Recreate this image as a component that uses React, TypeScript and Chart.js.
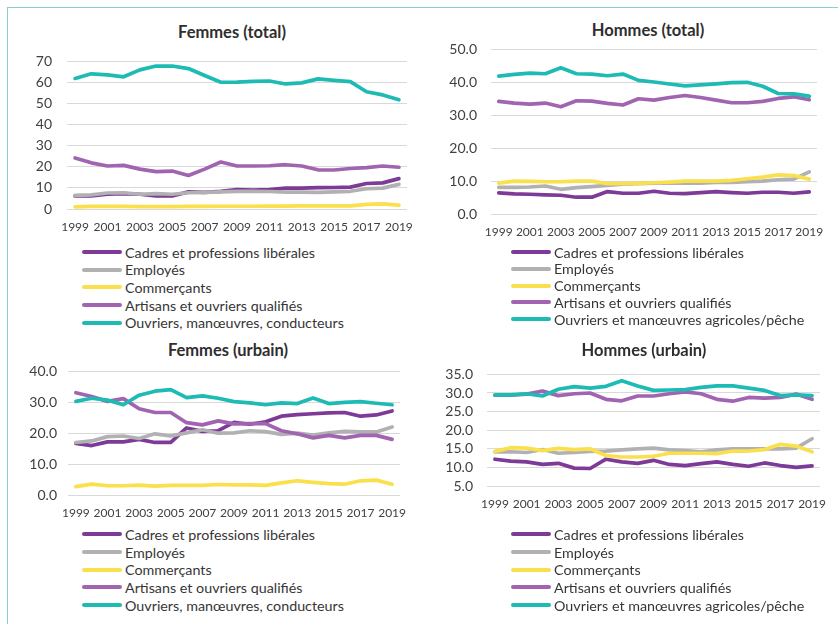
import React, { useEffect, useRef } from 'react';
import { Chart, registerables } from 'chart.js';

Chart.register(...registerables);

const FONT = 'Lato, "Open Sans", sans-serif';

const years = ['1999','2000','2001','2002','2003','2004','2005','2006','2007','2008','2009','2010','2011','2012','2013','2014','2015','2016','2017','2018','2019'];

const namesTotal = ['Cadres et professions libérales', 'Employés', 'Commerçants', 'Artisans et ouvriers qualifiés', 'Ouvriers, manœuvres, conducteurs'];
const namesHommes = ['Cadres et professions libérales', 'Employés', 'Commerçants', 'Artisans et ouvriers qualifiés', 'Ouvriers et manœuvres agricoles/pêche'];

const seriesColors = ['#7D3A96', '#B1B1B3', '#F9E04C', '#A064B0', '#1DBBB4'];

// Femmes (total)
const cadresFT = [6.2,6.2,7.0,7.3,7.0,6.2,6.2,8.1,7.9,8.4,9.2,9.0,9.2,9.9,9.9,10.1,10.2,10.4,12.1,12.4,14.4];
const employesFT = [6.5,6.7,7.6,7.7,7.0,7.3,7.0,7.7,7.9,8.1,8.4,8.4,8.3,8.0,8.0,7.9,8.1,8.4,9.6,9.9,11.7];
const commercantsFT = [1.0,1.2,1.2,1.2,1.1,1.1,1.1,1.2,1.2,1.3,1.3,1.3,1.4,1.4,1.5,1.5,1.5,1.5,2.2,2.4,1.8];
const artisansFT = [24.2,21.9,20.4,20.7,18.9,17.7,18.0,15.9,18.9,22.3,20.4,20.4,20.5,21.0,20.4,18.6,18.5,19.2,19.6,20.4,19.8];
const ouvriersFT = [61.9,64.1,63.6,62.7,66.0,67.8,67.8,66.6,63.3,60.1,60.2,60.5,60.7,59.3,59.8,61.7,61.0,60.4,55.6,54.1,51.8];

// Hommes (total)
const cadresHT = [6.4,6.1,6.0,5.8,5.7,5.1,5.1,6.8,6.3,6.3,6.9,6.3,6.2,6.5,6.8,6.5,6.3,6.6,6.6,6.3,6.7];
const employesHT = [8.1,8.1,8.2,8.5,7.5,8.0,8.3,8.7,9.1,9.2,9.4,9.4,9.4,9.4,9.6,9.6,9.8,10.0,10.4,10.6,12.8];
const commercantsHT = [9.4,10.0,9.9,9.8,9.8,10.0,10.0,9.2,9.2,9.3,9.5,9.7,10.0,10.0,10.0,10.2,10.7,11.2,11.9,11.7,10.6];
const artisansHT = [34.2,33.7,33.4,33.7,32.6,34.4,34.3,33.6,33.1,35.0,34.6,35.4,36.0,35.4,34.6,33.8,33.8,34.2,35.1,35.6,34.7];
const ouvriersHT = [41.9,42.4,42.8,42.6,44.4,42.6,42.5,42.0,42.5,40.6,40.1,39.5,38.9,39.2,39.5,39.9,40.0,38.8,36.6,36.5,35.8];

// Femmes (urbain)
const cadresFU = [16.7,16.0,17.2,17.2,18.0,17.0,17.0,21.7,20.6,20.8,23.5,22.9,23.7,25.5,26.0,26.3,26.6,26.7,25.5,25.9,27.2];
const employesFU = [17.0,17.5,18.9,19.1,18.3,19.8,19.1,20.1,21.1,20.0,20.1,20.8,20.5,19.6,20.0,19.4,20.1,20.6,20.4,20.4,22.0];
const commercantsFU = [2.7,3.5,3.0,3.0,3.2,2.9,3.1,3.1,3.1,3.4,3.3,3.3,3.1,3.9,4.6,4.1,3.7,3.5,4.6,4.8,3.5];
const artisansFU = [33.1,31.9,30.3,31.2,27.9,26.7,26.7,23.4,22.7,24.0,23.0,23.1,23.1,20.8,19.8,18.5,19.3,18.5,19.3,19.3,18.0];
const ouvriersFU = [30.3,31.3,30.7,29.2,32.3,33.6,34.1,31.5,32.1,31.3,30.2,29.8,29.2,29.8,29.6,31.4,29.6,30.0,30.2,29.7,29.2];

// Hommes (urbain)
const cadresHU = [12.2,11.7,11.5,10.8,11.1,9.8,9.7,12.2,11.5,11.1,11.9,10.8,10.5,11.0,11.5,10.8,10.3,11.2,10.5,10.0,10.4];
const employesHU = [14.2,14.2,14.0,14.8,13.8,14.0,14.3,14.4,14.7,15.0,15.2,14.7,14.5,14.2,14.7,15.0,15.0,15.0,15.0,15.2,17.7];
const commercantsHU = [14.3,15.3,15.2,14.5,15.1,14.8,15.0,13.2,12.8,12.8,13.0,13.8,13.8,13.8,13.7,14.4,14.4,14.8,16.2,15.7,14.2];
const artisansHU = [29.4,29.4,29.7,30.5,29.3,29.8,30.0,28.3,27.9,29.2,29.2,29.8,30.3,29.8,28.3,27.8,28.8,28.6,28.8,29.7,28.3];
const ouvriersHU = [29.5,29.5,29.8,29.2,31.0,31.7,31.3,31.8,33.3,31.9,30.7,30.8,30.9,31.5,31.9,31.9,31.3,30.7,29.3,29.5,29.3];

type PanelSpec = {
  title: string;
  titleX: number; titleY: number;
  names: string[];
  series: number[][];
  yMin: number; yMax: number; yStep: number; yDecimals: number;
  left: number; top: number; width: number; height: number;
  yAxisWidth: number; padRight: number; padTop: number;
  xAxisHeight: number; yTickPad: number;
  legendLeft: number; legendTop: number; legendStep: number;
};

const panels: PanelSpec[] = [
  {
    title: 'Femmes (total)', titleX: 232, titleY: 32, names: namesTotal,
    series: [cadresFT, employesFT, commercantsFT, artisansFT, ouvriersFT],
    yMin: 0, yMax: 70, yStep: 10, yDecimals: 0,
    left: 14, top: 38, width: 436, height: 201,
    yAxisWidth: 53, padRight: 43, padTop: 14, xAxisHeight: 30, yTickPad: 15,
    legendLeft: 82, legendTop: 252, legendStep: 17.7,
  },
  {
    title: 'Hommes (total)', titleX: 648, titleY: 30, names: namesHommes,
    series: [cadresHT, employesHT, commercantsHT, artisansHT, ouvriersHT],
    yMin: 0, yMax: 50, yStep: 10, yDecimals: 1,
    left: 440, top: 27, width: 415, height: 217,
    yAxisWidth: 51, padRight: 38, padTop: 14, xAxisHeight: 30, yTickPad: 14,
    legendLeft: 511, legendTop: 252, legendStep: 16.8,
  },
  {
    title: 'Femmes (urbain)', titleX: 228, titleY: 350, names: namesTotal,
    series: [cadresFU, employesFU, commercantsFU, artisansFU, ouvriersFU],
    yMin: 0, yMax: 40, yStep: 10, yDecimals: 1,
    left: 14, top: 352, width: 427, height: 173,
    yAxisWidth: 54, padRight: 41, padTop: 14, xAxisHeight: 30, yTickPad: 11,
    legendLeft: 82, legendTop: 534.3, legendStep: 17.7,
  },
  {
    title: 'Hommes (urbain)', titleX: 644, titleY: 350, names: namesHommes,
    series: [cadresHU, employesHU, commercantsHU, artisansHU, ouvriersHU],
    yMin: 5, yMax: 35, yStep: 5, yDecimals: 1,
    left: 436, top: 352, width: 417, height: 164,
    yAxisWidth: 51, padRight: 33, padTop: 14, xAxisHeight: 30, yTickPad: 14,
    legendLeft: 511, legendTop: 534.3, legendStep: 17.7,
  },
];

function Panel({ spec }: { spec: PanelSpec }) {
  const ref = useRef<HTMLCanvasElement | null>(null);
  useEffect(() => {
    if (!ref.current) return;
    const chart = new Chart(ref.current, {
      type: 'line',
      data: {
        labels: years,
        datasets: spec.series.map((d, i) => ({
          label: spec.names[i],
          data: d,
          borderColor: seriesColors[i],
          backgroundColor: seriesColors[i],
          borderWidth: 3.7,
          pointRadius: 0,
          pointHoverRadius: 0,
          tension: 0,
          fill: false,
          order: -i,
          borderCapStyle: 'round',
          borderJoinStyle: 'round',
        })),
      },
      options: {
        responsive: false,
        animation: false,
        events: [],
        layout: { padding: { left: 0, right: spec.padRight, top: spec.padTop, bottom: 0 } },
        plugins: {
          legend: { display: false },
          tooltip: { enabled: false },
          title: { display: false },
        },
        scales: {
          x: {
            offset: true,
            grid: { display: false, drawTicks: false },
            border: { display: false },
            ticks: {
              autoSkip: false,
              maxRotation: 0,
              minRotation: 0,
              padding: 11,
              color: '#404040',
              font: { family: FONT, size: 12 },
              callback: (_v: any, i: number) => (i % 2 === 0 ? years[i] : ''),
            },
            afterFit: (s: any) => { s.height = spec.xAxisHeight; },
          },
          y: {
            min: spec.yMin,
            max: spec.yMax,
            grid: { color: '#D9D9D9', lineWidth: 1, drawTicks: false },
            border: { display: false },
            ticks: {
              autoSkip: false,
              stepSize: spec.yStep,
              padding: spec.yTickPad,
              color: '#404040',
              font: { family: FONT, size: 14 },
              callback: (v: any) => Number(v).toFixed(spec.yDecimals),
            },
            afterFit: (s: any) => { s.width = spec.yAxisWidth; },
          },
        },
      } as any,
    });
    return () => chart.destroy();
  }, [spec]);

  return (
    <>
      <div
        style={{
          position: 'absolute',
          left: spec.titleX - 150,
          width: 300,
          top: spec.titleY - 11,
          height: 22,
          lineHeight: '22px',
          textAlign: 'center',
          fontFamily: FONT,
          fontWeight: 700,
          fontSize: 16.5,
          color: '#2E2E2E',
          whiteSpace: 'nowrap',
        }}
      >
        {spec.title}
      </div>
      <canvas
        ref={ref}
        width={spec.width}
        height={spec.height}
        style={{ position: 'absolute', left: spec.left, top: spec.top, width: spec.width, height: spec.height }}
      />
      {spec.names.map((n, i) => (
        <div
          key={n}
          style={{
            position: 'absolute',
            left: spec.legendLeft,
            top: spec.legendTop + i * spec.legendStep - 9,
            height: 18,
            display: 'flex',
            alignItems: 'center',
            whiteSpace: 'nowrap',
            fontFamily: FONT,
            fontSize: 14.3,
            color: '#363636',
          }}
        >
          <span style={{ display: 'inline-block', width: 40, height: 4, borderRadius: 2, background: seriesColors[i], marginRight: 3 }} />
          <span>{n}</span>
        </div>
      ))}
    </>
  );
}

export default function App() {
  return (
    <div style={{ position: 'absolute', left: 0, top: 0, width: 838, height: 624, overflow: 'hidden', background: '#FFFFFF' }}>
      <div style={{ position: 'absolute', left: 7, top: 7, width: 1000, height: 1000, border: '1.5px solid #86D0D0' }} />
      {panels.map((p) => (
        <Panel key={p.title} spec={p} />
      ))}
    </div>
  );
}
